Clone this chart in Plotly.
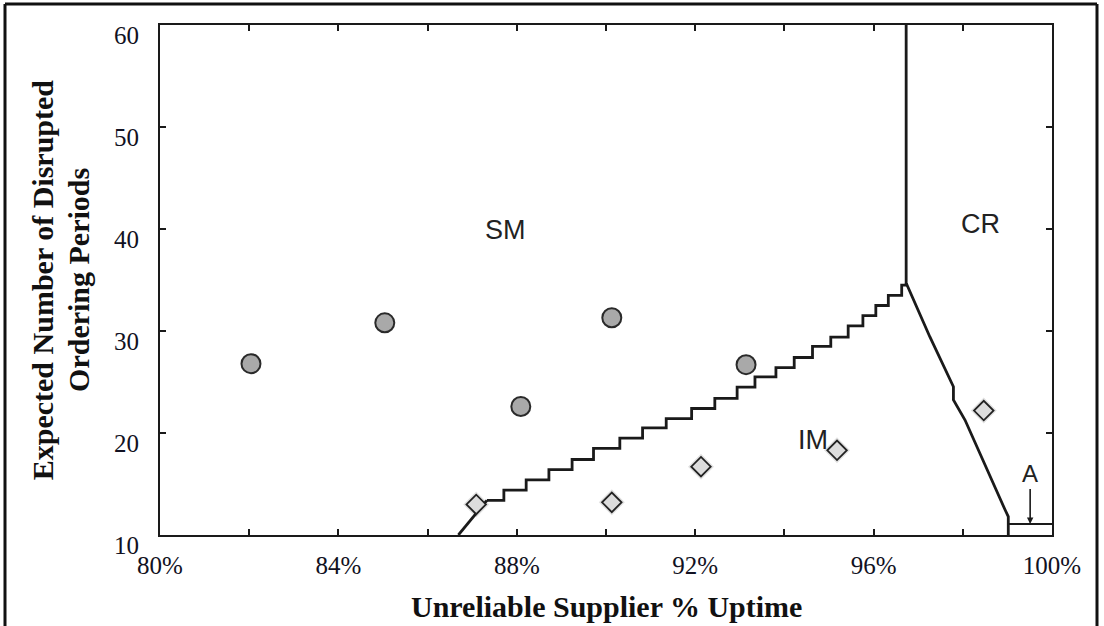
import plotly.graph_objects as go

# Strategy observations: SM (circles) and IM (diamonds)
sm_uptime = [82.04, 85.04, 88.09, 90.13, 93.14]
sm_periods = [26.8, 30.8, 22.6, 31.3, 26.7]
im_uptime = [87.09, 90.13, 92.13, 95.18, 98.47]
im_periods = [13.0, 13.2, 16.7, 18.3, 22.2]

# SM / IM boundary: diagonal foot, then a staircase (x where each step rises, new level)
foot_x = [86.69, 87.33]
foot_y = [10.0, 13.4]
stair_x = [87.33, 87.71, 88.21, 88.72, 89.24, 89.72, 90.31, 90.82, 91.35, 91.92,
           92.44, 92.94, 93.34, 93.81, 94.22, 94.63, 95.04, 95.43, 95.76, 96.05,
           96.33, 96.63, 96.73]
stair_y = [13.4, 14.4, 15.4, 16.4, 17.4, 18.5, 19.5, 20.5, 21.4, 22.4,
           23.4, 24.5, 25.5, 26.4, 27.4, 28.5, 29.4, 30.5, 31.5, 32.5,
           33.5, 34.5, 34.7]

# SM / CR divider and CR / IM boundary down to the axis
edge_x = [96.73, 96.73, 97.26, 97.79, 97.79, 98.05, 98.95, 99.02, 99.02]
edge_y = [60.0, 34.7, 29.44, 24.54, 23.24, 21.27, 12.45, 11.8, 10.0]

# Region A upper edge
a_x = [99.02, 100.0]
a_y = [11.08, 11.08]

# Region labels
region_names = ["SM", "CR", "IM"]
region_x = [87.74, 98.39, 94.64]
region_y = [39.9, 40.5, 19.3]

# Pointer to region A
a_label = "A"
a_point_x = 99.51
a_point_y = 11.08

x_tickvals = [80, 84, 88, 92, 96, 100]
x_ticktext = ["80%", "84%", "88%", "92%", "96%", "100%"]
y_tickvals = [10, 20, 30, 40, 50, 60]

LINE = "#1a1a1a"
SERIF = "Liberation Serif, Times New Roman, serif"
SANS = "Liberation Sans, Arial, sans-serif"

fig = go.Figure()

fig.add_trace(go.Scatter(x=foot_x, y=foot_y, mode="lines",
                         line=dict(color=LINE, width=2.8), hoverinfo="skip"))
fig.add_trace(go.Scatter(x=stair_x, y=stair_y, mode="lines",
                         line=dict(color=LINE, width=2.8, shape="hv"), hoverinfo="skip"))
fig.add_trace(go.Scatter(x=edge_x, y=edge_y, mode="lines",
                         line=dict(color=LINE, width=2.8), hoverinfo="skip"))
fig.add_trace(go.Scatter(x=a_x, y=a_y, mode="lines",
                         line=dict(color=LINE, width=2.2), hoverinfo="skip"))

# soft shadow under the diamonds
fig.add_trace(go.Scatter(x=im_uptime, y=im_periods, mode="markers",
                         marker=dict(symbol="diamond", size=20, color="rgba(0,0,0,0.12)",
                                     line=dict(width=0))))
fig.add_trace(go.Scatter(x=im_uptime, y=im_periods, mode="markers",
                         marker=dict(symbol="diamond", size=15, color="#dcdcdc",
                                     line=dict(color="#222222", width=1.8))))
fig.add_trace(go.Scatter(x=sm_uptime, y=sm_periods, mode="markers",
                         marker=dict(symbol="circle", size=19, color="#a9a9a9",
                                     line=dict(color="#2a2a2a", width=2))))

for name, rx, ry in zip(region_names, region_x, region_y):
    fig.add_annotation(x=rx, y=ry, text=name, showarrow=False,
                       font=dict(family=SANS, size=27, color="#222222"))

fig.add_annotation(x=a_point_x, y=a_point_y, text=a_label, showarrow=True,
                   ax=0, ay=-50, arrowhead=2, arrowsize=0.8, arrowwidth=1.6,
                   arrowcolor=LINE, font=dict(family=SANS, size=24, color="#222222"))

# axis titles
fig.add_annotation(xref="paper", yref="paper", x=0.5, y=-0.14, text="<b>Unreliable Supplier % Uptime</b>",
                   showarrow=False, yanchor="middle",
                   font=dict(family=SERIF, size=30, color="#111111"))
fig.add_annotation(xref="paper", yref="paper", x=-0.132, y=0.5, text="<b>Expected Number of Disrupted</b>",
                   showarrow=False, textangle=-90, xanchor="center",
                   font=dict(family=SERIF, size=30, color="#111111"))
fig.add_annotation(xref="paper", yref="paper", x=-0.092, y=0.5, text="<b>Ordering Periods</b>",
                   showarrow=False, textangle=-90, xanchor="center",
                   font=dict(family=SERIF, size=30, color="#111111"))

# outer frame around the figure
frame = dict(color="#111111", width=3)
x_left, x_right = (5 - 160) / 892, (1097 - 160) / 892
y_top, y_bot = (535 - 4) / 510, (535 - 640) / 510
fig.add_shape(type="line", xref="paper", yref="paper", x0=x_left, x1=x_left, y0=y_bot, y1=y_top, line=frame)
fig.add_shape(type="line", xref="paper", yref="paper", x0=x_left, x1=x_right, y0=y_top, y1=y_top, line=frame)
fig.add_shape(type="line", xref="paper", yref="paper", x0=x_right, x1=x_right, y0=y_bot, y1=y_top, line=frame)

fig.update_xaxes(range=[80, 100], tickvals=x_tickvals, ticktext=x_ticktext,
                 ticks="inside", ticklen=6, tickwidth=2, tickcolor=LINE,
                 minor=dict(dtick=2, tick0=80, ticks="inside", ticklen=6, tickwidth=2, tickcolor=LINE),
                 showline=True, linecolor=LINE, linewidth=2, mirror="ticks",
                 showgrid=False, zeroline=False,
                 tickfont=dict(family=SERIF, size=25, color="#111122"),
                 ticklabelstandoff=7)
fig.update_yaxes(range=[10, 60], tickvals=y_tickvals,
                 ticks="inside", ticklen=6, tickwidth=2, tickcolor=LINE,
                 showline=True, linecolor=LINE, linewidth=2, mirror="ticks",
                 showgrid=False, zeroline=False,
                 tickfont=dict(family=SERIF, size=25, color="#111122"),
                 ticklabelstandoff=14, ticklabelshift=10)

fig.update_layout(width=1104, height=626, showlegend=False,
                  margin=dict(l=160, r=52, t=25, b=91),
                  paper_bgcolor="white", plot_bgcolor="white")

fig.write_html("out.html")
